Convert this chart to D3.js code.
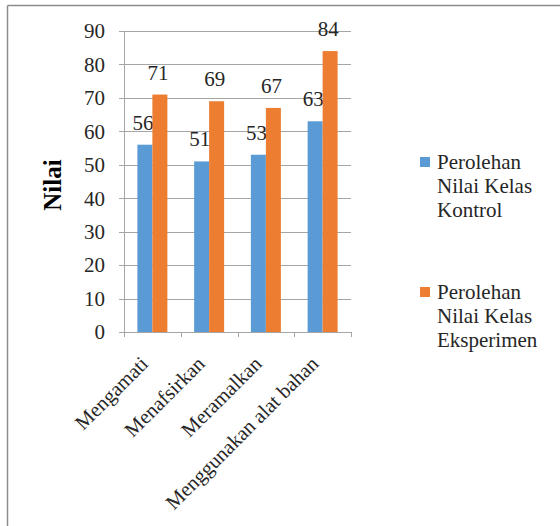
<!doctype html>
<html lang="en">

<head>
    <meta charset="UTF-8" />
    <script src="https://d3js.org/d3.v7.min.js"></script>
    <title>Nilai</title>
    <style>
        body { margin: 0; background: white; }
    </style>
</head>

<body>
    <div id="chart"></div>
    <script>
        // Data
        const categories = ["Mengamati", "Menafsirkan", "Meramalkan", "Menggunakan alat bahan"]
        const kontrol = [56, 51, 53, 63]
        const eksperimen = [71, 69, 67, 84]
        const seriesNames = ["Perolehan Nilai Kelas Kontrol", "Perolehan Nilai Kelas Eksperimen"]
        const seriesColors = ["#5b9bd5", "#ed7d31"]
        const yTicks = [0, 10, 20, 30, 40, 50, 60, 70, 80, 90]

        const W = 560, H = 526
        const plot = { left: 124, right: 351, top: 31, bottom: 332 }
        const serif = '"Liberation Serif"'

        const svg = d3.select("#chart").append("svg")
            .attr("width", W)
            .attr("height", H)

        // outer frame (top + left edges visible)
        svg.append("line").attr("x1", 7.5).attr("x2", W).attr("y1", 5.5).attr("y2", 5.5)
            .attr("stroke", "#8c8c8c").attr("stroke-width", 1.5)
        svg.append("line").attr("x1", 7.5).attr("x2", 7.5).attr("y1", 5.5).attr("y2", H)
            .attr("stroke", "#8c8c8c").attr("stroke-width", 1.5)

        const x = d3.scaleBand().domain(categories).range([plot.left, plot.right])
        const y = d3.scaleLinear().domain([0, 90]).range([plot.bottom, plot.top])
        const barW = 15

        // gridlines
        svg.append("g").selectAll("line")
            .data(yTicks)
            .join("line")
            .attr("x1", plot.left - 5)
            .attr("x2", plot.right)
            .attr("y1", d => Math.round(y(d)) + 0.5)
            .attr("y2", d => Math.round(y(d)) + 0.5)
            .attr("stroke", "#a6a6a6")
            .attr("stroke-width", 1)

        // y axis line
        svg.append("line")
            .attr("x1", plot.left + 0.5).attr("x2", plot.left + 0.5)
            .attr("y1", plot.top).attr("y2", plot.bottom)
            .attr("stroke", "#a6a6a6")

        // x ticks
        const xTickPos = categories.map(c => x(c)).concat([plot.right])
        svg.append("g").selectAll("line")
            .data(xTickPos)
            .join("line")
            .attr("x1", d => Math.round(d) + 0.5)
            .attr("x2", d => Math.round(d) + 0.5)
            .attr("y1", plot.bottom)
            .attr("y2", plot.bottom + 5)
            .attr("stroke", "#a6a6a6")

        // y tick labels
        svg.append("g").selectAll("text")
            .data(yTicks)
            .join("text")
            .attr("x", 105)
            .attr("y", d => y(d))
            .attr("dy", "0.35em")
            .attr("text-anchor", "end")
            .attr("font-size", 21)
            .style("font-family", serif)
            .attr("fill", "#262626")
            .text(d => d)

        // bars
        const series = [kontrol, eksperimen]
        series.forEach((vals, si) => {
            const g = svg.append("g")
            g.selectAll("rect")
                .data(vals)
                .join("rect")
                .attr("x", (d, i) => x(categories[i]) + x.bandwidth() / 2 - barW + si * barW)
                .attr("y", d => y(d))
                .attr("width", barW)
                .attr("height", d => y(0) - y(d))
                .attr("fill", seriesColors[si])

            g.selectAll("text")
                .data(vals)
                .join("text")
                .attr("x", (d, i) => x(categories[i]) + x.bandwidth() / 2 - barW / 2 + si * barW - 2)
                .attr("y", d => y(d) - 15)
                .attr("text-anchor", "middle")
                .attr("font-size", 21)
                .style("font-family", serif)
                .attr("fill", "#262626")
                .text(d => d)
        })

        // category labels
        svg.append("g").selectAll("text")
            .data(categories)
            .join("text")
            .attr("transform", d => `translate(${x(d) + x.bandwidth() / 2 - 3}, ${plot.bottom + 33}) rotate(-45)`)
            .attr("text-anchor", "end")
            .attr("font-size", 20.5)
            .style("font-family", serif)
            .attr("fill", "#262626")
            .text(d => d)

        // y axis title
        svg.append("text")
            .attr("transform", "translate(61, 185) rotate(-90)")
            .attr("text-anchor", "middle")
            .attr("font-size", 25)
            .attr("font-weight", "bold")
            .style("font-family", serif)
            .text("Nilai")

        // legend
        const legendRows = [["Perolehan", "Nilai Kelas", "Kontrol"], ["Perolehan", "Nilai Kelas", "Eksperimen"]]
        const legendTop = [162, 292]
        legendRows.forEach((lines, i) => {
            const g = svg.append("g").attr("transform", `translate(420, ${legendTop[i]})`)
            g.append("rect")
                .attr("x", 0).attr("y", -5)
                .attr("width", 10).attr("height", 10)
                .attr("fill", seriesColors[i])
            g.append("text")
                .attr("x", 17)
                .attr("y", 0)
                .attr("font-size", 21)
                .style("font-family", serif)
                .attr("fill", "#262626")
                .selectAll("tspan")
                .data(lines)
                .join("tspan")
                .attr("x", 17)
                .attr("dy", (d, j) => j === 0 ? "0.35em" : 24)
                .text(d => d)
        })
    </script>
</body>

</html>
